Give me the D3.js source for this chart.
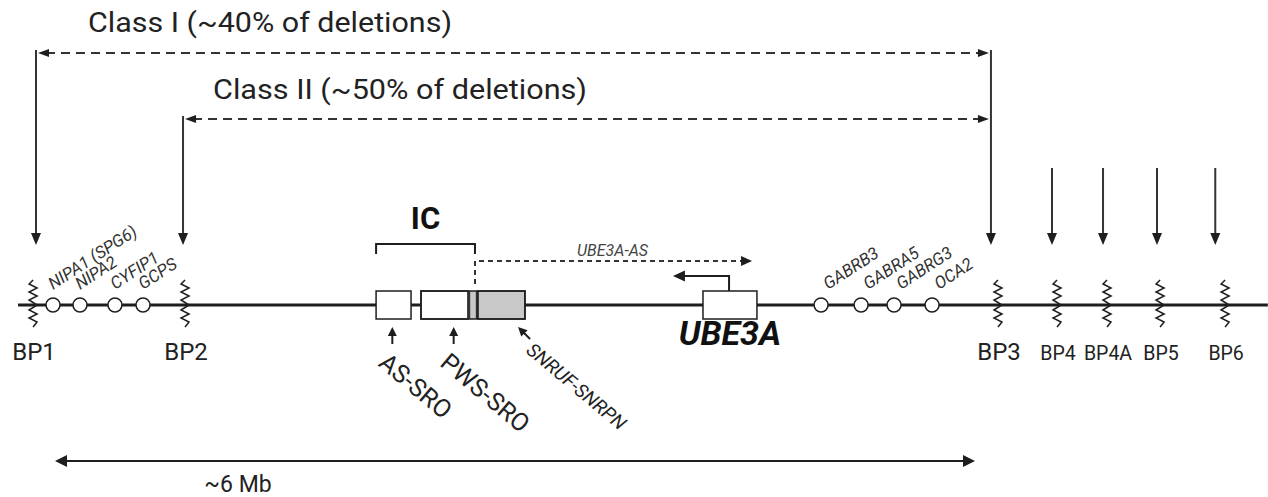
<!DOCTYPE html>
<html>
<head>
<meta charset="utf-8">
<script src="https://cdn.jsdelivr.net/npm/d3@7"></script>
<style>
  body { margin: 0; background: #fff; }
  svg { display: block; font-family: Roboto, "Open Sans", sans-serif; }
</style>
</head>
<body>
<div id="chart"></div>
<script>
// positions along chromosome 15q11-q13, in Mb (schematic)
const breakpoints = ["BP1", "BP2", "BP3", "BP4", "BP4A", "BP5", "BP6"];
const bpPos = [-0.143, 0.848, 6.15, 6.535, 6.861, 7.207, 7.631];
const bpArrowPos = [-0.124, 0.835, 6.104, 6.502, 6.835, 7.187, 7.567];

const geneNames = ["NIPA1 (SPG6)", "NIPA2", "CYFIP1", "GCPS", "GABRB3", "GABRA5", "GABRG3", "OCA2"];
const genePos = [-0.013, 0.163, 0.391, 0.574, 4.996, 5.257, 5.472, 5.72];

const deletionClasses = ["Class I (~40% of deletions)", "Class II (~50% of deletions)"];
const classFrom = ["BP1", "BP2"];
const classTo = ["BP3", "BP3"];

const regionNames = ["AS-SRO", "PWS-SRO", "SNRUF-SNRPN"];
const regionPos = [2.2, 2.6, 3.02];

const boxStart = [2.094, 2.387, 2.693, 2.759, 4.226];
const boxEnd = [2.322, 2.693, 2.759, 3.065, 4.578];
const boxKind = ["white", "white", "stripe", "gray", "white"];

const icRange = [2.094, 2.739];
const asTranscript = [2.739, 4.546];
const ube3aTss = [4.396, 4.03];
const sizeRange = [0, 6];

const width = 1268, height = 497;
const lineY = 305;

const x = d3.scaleLinear().domain([0, 6]).range([55, 975]);

const svg = d3.select("#chart").append("svg")
    .attr("width", width)
    .attr("height", height)
    .attr("viewBox", `0 0 ${width} ${height}`);

const ink = "#1e1e1e";

// filled arrow head, tip at (tx, ty), pointing along angle (deg)
const head = (g, tx, ty, angle, len = 11, half = 4.5) => {
    g.append("path")
        .attr("d", `M0,0 L${-len},${-half} L${-len},${half} Z`)
        .attr("fill", ink)
        .attr("transform", `translate(${tx},${ty}) rotate(${angle})`);
};

// chromosome line
svg.append("line")
    .attr("x1", x(-0.241)).attr("x2", x(7.91))
    .attr("y1", lineY).attr("y2", lineY)
    .attr("stroke", ink).attr("stroke-width", 3);

// deletion classes
const classY = [53, 119];
const tipY = 245;
deletionClasses.forEach((name, i) => {
    const a = x(bpArrowPos[breakpoints.indexOf(classFrom[i])]);
    const b = x(bpArrowPos[breakpoints.indexOf(classTo[i])]);
    const y = classY[i];
    svg.append("line")
        .attr("x1", a + 10).attr("x2", b - 10)
        .attr("y1", y).attr("y2", y)
        .attr("stroke", "#333").attr("stroke-width", 2)
        .attr("stroke-dasharray", "9,6");
    head(svg, a + 2, y, 180, 11, 4);
    head(svg, b - 2, y, 0, 11, 4);
    svg.append("line")
        .attr("x1", a).attr("x2", a)
        .attr("y1", y - 3).attr("y2", tipY - 8)
        .attr("stroke", "#333").attr("stroke-width", 2);
    svg.append("text")
        .attr("x", i === 0 ? 88 : 213)
        .attr("y", i === 0 ? 32 : 99)
        .attr("font-size", 28)
        .attr("textLength", i === 0 ? 364 : 374)
        .attr("lengthAdjust", "spacingAndGlyphs")
        .attr("fill", "#222")
        .text(name);
});
// BP3 vertical (end of both classes)
const bp3x = x(bpArrowPos[breakpoints.indexOf("BP3")]);
svg.append("line")
    .attr("x1", bp3x).attr("x2", bp3x)
    .attr("y1", classY[0] - 3).attr("y2", tipY - 8)
    .attr("stroke", "#333").attr("stroke-width", 2);

// arrow heads at BP1-BP3 and the short arrows BP4-BP6
bpArrowPos.forEach((p, i) => {
    const ax = x(p);
    if (i >= 3) {
        svg.append("line")
            .attr("x1", ax).attr("x2", ax)
            .attr("y1", 168).attr("y2", tipY - 8)
            .attr("stroke", "#333").attr("stroke-width", 2);
    }
    head(svg, ax, tipY, 90, 12, 5);
});

// breakpoint zigzags + labels
const zig = d3.line().curve(d3.curveLinear);
breakpoints.forEach((name, i) => {
    const bx = x(bpPos[i]);
    const pts = [];
    const ys = [280, 284, 288, 292, 296, 300, 305, 310, 314, 318, 322, 327];
    ys.forEach((yy, k) => {
        const off = (k === 0 || k === ys.length - 1) ? 0 : (k % 2 ? -4 : 4);
        pts.push([bx + off, yy]);
    });
    svg.append("path")
        .attr("d", zig(pts))
        .attr("fill", "none")
        .attr("stroke", ink).attr("stroke-width", 1.5);
    svg.append("text")
        .attr("x", bx + 1)
        .attr("y", 360)
        .attr("text-anchor", "middle")
        .attr("font-size", i >= 3 ? 19.5 : 24)
        .attr("fill", "#222")
        .text(name);
});

// genes (circles + slanted labels)
geneNames.forEach((name, i) => {
    const gx = x(genePos[i]);
    svg.append("circle")
        .attr("cx", gx).attr("cy", lineY).attr("r", 7)
        .attr("fill", "#fff").attr("stroke", ink).attr("stroke-width", 1.5);
    svg.append("text")
        .attr("transform", `translate(${gx + (i < 4 ? 0 : 7)},${290}) rotate(-33)`)
        .attr("font-size", 17)
        .attr("font-style", "italic")
        .attr("fill", "#333")
        .text(name);
});

// boxes (AS-SRO, PWS-SRO / SNRPN, UBE3A)
const boxTop = 291, boxH = 28;
boxStart.forEach((s, i) => {
    const kind = boxKind[i];
    svg.append("rect")
        .attr("x", x(s)).attr("y", boxTop)
        .attr("width", x(boxEnd[i]) - x(s)).attr("height", boxH)
        .attr("fill", kind === "white" ? "#fff" : "#c8c8c8")
        .attr("stroke", kind === "stripe" ? "none" : ink)
        .attr("stroke-width", 1.5);
    if (kind === "stripe") {
        [s, boxEnd[i]].forEach((e, k) => {
            svg.append("line")
                .attr("x1", x(e) + (k ? -1 : 1)).attr("x2", x(e) + (k ? -1 : 1))
                .attr("y1", boxTop).attr("y2", boxTop + boxH)
                .attr("stroke", "#333").attr("stroke-width", 2.5);
        });
    }
});
// outline of composite PWS box
svg.append("rect")
    .attr("x", x(boxStart[1])).attr("y", boxTop)
    .attr("width", x(boxEnd[3]) - x(boxStart[1])).attr("height", boxH)
    .attr("fill", "none").attr("stroke", ink).attr("stroke-width", 1.5);

// IC bracket
svg.append("path")
    .attr("d", `M${x(icRange[0])},254 V244 H${x(icRange[1])} V254`)
    .attr("fill", "none").attr("stroke", ink).attr("stroke-width", 2);
svg.append("text")
    .attr("x", (x(icRange[0]) + x(icRange[1])) / 2)
    .attr("y", 229)
    .attr("text-anchor", "middle")
    .attr("font-size", 31).attr("font-weight", "bold")
    .attr("fill", "#111")
    .text("IC");

// UBE3A-AS transcript
svg.append("path")
    .attr("d", `M${x(asTranscript[0])},284 V261 H${x(asTranscript[1]) - 8}`)
    .attr("fill", "none").attr("stroke", "#333").attr("stroke-width", 2)
    .attr("stroke-dasharray", "5,4");
head(svg, x(asTranscript[1]), 261, 0, 11, 5);
svg.append("text")
    .attr("x", 577).attr("y", 256)
    .attr("font-size", 16).attr("font-style", "italic")
    .attr("fill", "#444")
    .text("UBE3A-AS");

// UBE3A promoter arrow
svg.append("path")
    .attr("d", `M${x(ube3aTss[0])},${boxTop} V276 H${x(ube3aTss[1]) + 8}`)
    .attr("fill", "none").attr("stroke", ink).attr("stroke-width", 2);
head(svg, x(ube3aTss[1]), 276, 180, 12, 5.5);
svg.append("text")
    .attr("x", x((boxStart[4] + boxEnd[4]) / 2))
    .attr("y", 345)
    .attr("text-anchor", "middle")
    .attr("font-size", 34).attr("font-weight", "bold").attr("font-style", "italic")
    .attr("fill", "#111")
    .text("UBE3A");

// region pointers and slanted labels below the boxes
const regionStyle = [
    { angle: -90, size: 25, italic: false, dx: -15, dy: 21 },
    { angle: -90, size: 25, italic: false, dx: -15, dy: 21 },
    { angle: -135, size: 19, italic: true, dx: -5, dy: 13 }
];
regionNames.forEach((name, i) => {
    const rx = x(regionPos[i]);
    const st = regionStyle[i];
    const tipx = rx, tipy = 327;
    const rad = st.angle * Math.PI / 180;
    const tailx = tipx - Math.cos(rad) * 17, taily = tipy - Math.sin(rad) * 17;
    svg.append("line")
        .attr("x1", tailx).attr("y1", taily)
        .attr("x2", tipx - Math.cos(rad) * 6).attr("y2", tipy - Math.sin(rad) * 6)
        .attr("stroke", ink).attr("stroke-width", 2);
    head(svg, tipx, tipy, st.angle, 9, 4.5);
    svg.append("text")
        .attr("transform", `translate(${tailx + st.dx},${taily + st.dy}) rotate(40)`)
        .attr("font-size", st.size)
        .attr("font-style", st.italic ? "italic" : "normal")
        .attr("fill", "#222")
        .text(name);
});

// ~6 Mb scale
const sy = 461;
svg.append("line")
    .attr("x1", x(sizeRange[0]) + 6).attr("x2", x(sizeRange[1]) - 6)
    .attr("y1", sy).attr("y2", sy)
    .attr("stroke", ink).attr("stroke-width", 2);
head(svg, x(sizeRange[0]), sy, 180, 12, 6);
head(svg, x(sizeRange[1]), sy, 0, 12, 6);
svg.append("text")
    .attr("x", 238).attr("y", 492)
    .attr("text-anchor", "middle")
    .attr("font-size", 23)
    .attr("fill", "#222")
    .text("~6 Mb");
</script>
</body>
</html>
